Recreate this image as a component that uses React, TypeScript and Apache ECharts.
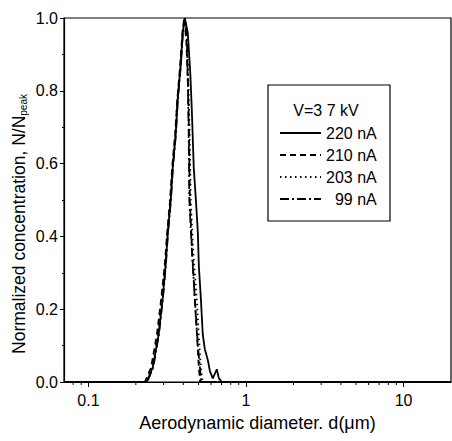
import React, { useEffect, useRef } from "react";
import * as echarts from "echarts";

const FONT = '"Liberation Sans", Arial, sans-serif';

// [diameter (µm), normalized concentration]
const s220: [number, number][] = [
  [0.07, 0], [0.234, 0], [0.256, 0.04], [0.279, 0.13], [0.296, 0.23], [0.309, 0.32], [0.319, 0.41],
  [0.333, 0.5], [0.343, 0.59], [0.358, 0.68], [0.369, 0.78], [0.385, 0.87], [0.397, 0.96],
  [0.409, 1.0], [0.427, 0.96], [0.443, 0.85], [0.453, 0.75], [0.466, 0.59], [0.481, 0.5],
  [0.495, 0.41], [0.502, 0.32], [0.517, 0.23], [0.532, 0.13], [0.548, 0.09], [0.573, 0.06],
  [0.59, 0.03], [0.616, 0.01], [0.653, 0.035], [0.673, 0.01], [0.703, 0], [20, 0],
];
const s210: [number, number][] = [
  [0.07, 0], [0.228, 0], [0.25, 0.04], [0.272, 0.13], [0.29, 0.23], [0.305, 0.32], [0.316, 0.41],
  [0.33, 0.5], [0.34, 0.59], [0.355, 0.68], [0.367, 0.78], [0.382, 0.87], [0.395, 0.96],
  [0.405, 1.0], [0.418, 0.94], [0.428, 0.82], [0.435, 0.68], [0.44, 0.5], [0.455, 0.36],
  [0.473, 0.23], [0.49, 0.12], [0.502, 0.04], [0.512, 0], [20, 0],
];
const s203: [number, number][] = [
  [0.07, 0], [0.232, 0], [0.254, 0.04], [0.276, 0.13], [0.293, 0.23], [0.307, 0.32], [0.318, 0.41],
  [0.331, 0.5], [0.342, 0.59], [0.356, 0.68], [0.368, 0.78], [0.384, 0.87], [0.396, 0.96],
  [0.407, 1.0], [0.42, 0.95], [0.43, 0.84], [0.438, 0.7], [0.446, 0.5], [0.462, 0.36],
  [0.487, 0.23], [0.503, 0.12], [0.517, 0.04], [0.53, 0], [20, 0],
];
const s99: [number, number][] = [
  [0.07, 0], [0.236, 0], [0.258, 0.04], [0.28, 0.13], [0.297, 0.23], [0.31, 0.32], [0.32, 0.41],
  [0.334, 0.5], [0.344, 0.59], [0.359, 0.68], [0.37, 0.78], [0.386, 0.87], [0.398, 0.96],
  [0.41, 1.0], [0.421, 0.95], [0.428, 0.82], [0.433, 0.68], [0.437, 0.5], [0.455, 0.35],
  [0.478, 0.2], [0.495, 0.1], [0.51, 0.04], [0.52, 0], [20, 0],
];

const seriesNames = ["220 nA", "210 nA", "203 nA", "99 nA"];
const xMinorTicks = [0.08, 0.09, 0.2, 0.3, 0.4, 0.5, 0.6, 0.7, 0.8, 0.9, 2, 3, 4, 5, 6, 7, 8, 9];
const xMajorLabels = [0.1, 1, 10];

export default function App() {
  const ref = useRef<HTMLDivElement>(null);
  useEffect(() => {
    if (!ref.current) return;
    const chart = echarts.init(ref.current, undefined, { renderer: "svg" });
    const lineTypes: any[] = ["solid", [6, 4], [1.5, 3.5], [9, 3, 2, 3]];
    const datas = [s220, s210, s203, s99];
    chart.setOption({
      animation: false,
      textStyle: { fontFamily: FONT, color: "#000" },
      grid: {
        left: 64, right: 1, top: 18, bottom: 59,
        show: true, borderColor: "#000", borderWidth: 1.2,
      },
      xAxis: {
        type: "log",
        logBase: 10,
        min: 0.07,
        max: 20,
        axisLine: { lineStyle: { color: "#000", width: 1.2 } },
        axisTick: { show: true, inside: false, length: 5, lineStyle: { color: "#000" } },
        splitLine: { show: false },
        axisLabel: {
          color: "#000",
          fontSize: 16,
          fontFamily: FONT,
          margin: 10,
          showMinLabel: false,
          showMaxLabel: false,
          formatter: (v: number) => {
            const hit = xMajorLabels.find((m) => Math.abs(m - v) / m < 1e-6);
            return hit !== undefined ? String(hit) : "";
          },
        },
        name: "Aerodynamic diameter. d(\u03bcm)",
        nameLocation: "middle",
        nameGap: 32,
        nameTextStyle: { fontSize: 18, color: "#000", fontFamily: FONT },
      },
      yAxis: {
        type: "value",
        min: 0,
        max: 1,
        interval: 0.2,
        axisLine: { show: true, lineStyle: { color: "#000", width: 1.2 } },
        axisTick: { show: true, inside: false, length: 4, lineStyle: { color: "#000" } },
        minorTick: { show: true, splitNumber: 2, length: 2, lineStyle: { color: "#000" } },
        splitLine: { show: false },
        axisLabel: {
          color: "#000",
          fontSize: 16,
          fontFamily: FONT,
          margin: 6,
          formatter: (v: number) => v.toFixed(1),
        },
      },
      legend: {
        data: seriesNames,
        orient: "vertical",
        left: 279,
        top: 125,
        padding: 0,
        itemWidth: 41,
        itemHeight: 14,
        itemGap: 6,
        itemStyle: { opacity: 0 },
        formatter: (n: string) => (n === "99 nA" ? "  " + n : n),
        textStyle: { fontSize: 16, color: "#000", fontFamily: FONT },
        inactiveColor: "#000",
      },
      graphic: [
        {
          type: "rect",
          shape: { x: 268, y: 85, width: 122, height: 136 },
          style: { fill: "#fff", stroke: "#000", lineWidth: 1.2 },
          z: 0,
        },
        {
          type: "text",
          x: 326,
          y: 110,
          style: {
            text: "V=3 7 kV",
            fontSize: 16,
            fontFamily: FONT,
            fill: "#000",
            align: "center",
            verticalAlign: "middle",
          },
          z: 10,
        },
        {
          type: "text",
          x: 19,
          y: 224,
          rotation: Math.PI / 2,
          style: {
            text: "Normalized concentration, N/N{sub|peak}",
            fontSize: 17.5,
            fontFamily: FONT,
            fill: "#000",
            align: "center",
            verticalAlign: "middle",
            rich: {
              sub: { fontSize: 10, fontFamily: FONT, fill: "#000", verticalAlign: "bottom", padding: [8, 0, 0, 0] },
            },
          },
          z: 10,
        },
      ],
      series: [
        ...datas.map((d, i) => ({
          name: seriesNames[i],
          type: "line",
          data: d,
          symbol: "none",
          showSymbol: false,
          smooth: false,
          color: "#000",
          lineStyle: { color: "#000", width: 1.8, type: lineTypes[i] },
          z: 5,
        })),
        {
          type: "custom",
          name: "minorTicks",
          data: xMinorTicks.map((v) => [v, 0]),
          clip: false,
          silent: true,
          renderItem: (params: any, api: any) => {
            const p = api.coord([api.value(0), 0]);
            return {
              type: "line",
              shape: { x1: p[0], y1: p[1], x2: p[0], y2: p[1] + 3 },
              style: { stroke: "#000", lineWidth: 1 },
            };
          },
        },
      ],
    });
    return () => chart.dispose();
  }, []);
  return (
    <div
      ref={ref}
      style={{ position: "fixed", left: 0, top: 0, width: 452, height: 441, background: "#fff" }}
    />
  );
}
